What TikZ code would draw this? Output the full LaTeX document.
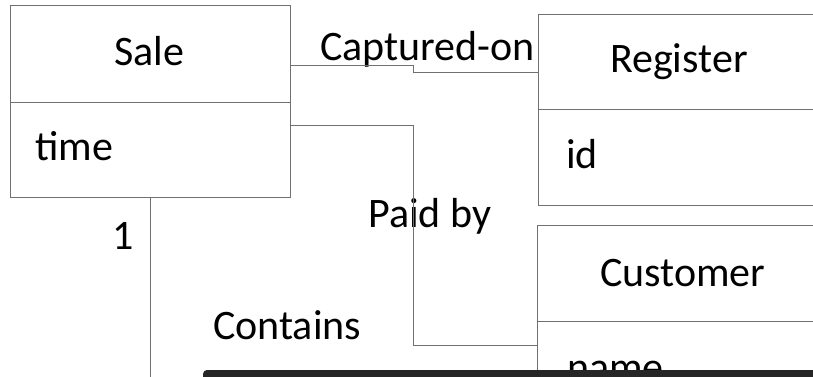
\documentclass[tikz,border=0pt]{standalone}
\usepackage{fontspec}
\setmainfont{Carlito}
\definecolor{linegray}{HTML}{707070}
\definecolor{barcol}{HTML}{262626}
\begin{document}
\begin{tikzpicture}[x=1pt,y=-1pt,
  box/.style={draw=linegray, line width=1pt, rectangle, inner sep=0pt, anchor=north west},
  conn/.style={draw=linegray, line width=1pt},
  lbl/.style={inner sep=0pt, anchor=base west, font=\fontsize{42pt}{50pt}\selectfont}]
\useasboundingbox (0,0) rectangle (813,376);
\clip (0,0) rectangle (813,376);
% boxes
\node[box, minimum width=280pt, minimum height=192pt] (sale) at (10,5) {};
\node[box, minimum width=290pt, minimum height=191pt] (register) at (538,14) {};
\node[box, minimum width=290pt, minimum height=200pt] (customer) at (537,225) {};
% dividers
\coordinate (sd) at (0,102);
\coordinate (rd) at (0,109);
\coordinate (cd) at (0,321);
\draw[conn] (sale.west |- sd) -- (sale.east |- sd);
\draw[conn] (register.west |- rd) -- (register.east |- rd);
\draw[conn] (customer.west |- cd) -- (customer.east |- cd);
% texts
\node[lbl, anchor=base] (saleT) at (149,65) {Sale};
\node[lbl] (timeT) at (35,160) {time};
\node[lbl] (regT) at (610,72) {Register};
\node[lbl] (idT) at (566,168) {id};
\node[lbl] (custT) at (600,286) {Customer};
\node[lbl] (nameT) at (567,381) {name};
\node[lbl] (capT) at (320,60) {Captured-on};
\node[lbl] (paidT) at (368,227) {Paid by};
\node[lbl] (oneT) at (112,249) {1};
\node[lbl] (contT) at (213,339) {Contains};
% connectors
\coordinate (c1) at (413.5,65);
\coordinate (c2) at (413.5,72);
\draw[conn] (sale.east |- c1) -- (c1) -- (c2) -- (register.west |- c2);
\coordinate (p1) at (413.5,125);
\coordinate (p2) at (413.5,345);
\draw[conn] (sale.east |- p1) -- (p1) -- (p2) -- (customer.west |- p2);
\coordinate (k1) at (150.5,385);
\draw[conn] (sale.south -| k1) -- (k1);
% dark bar at bottom
\fill[barcol, rounded corners=4pt] (203,370) rectangle (840,400);
\end{tikzpicture}
\end{document}
